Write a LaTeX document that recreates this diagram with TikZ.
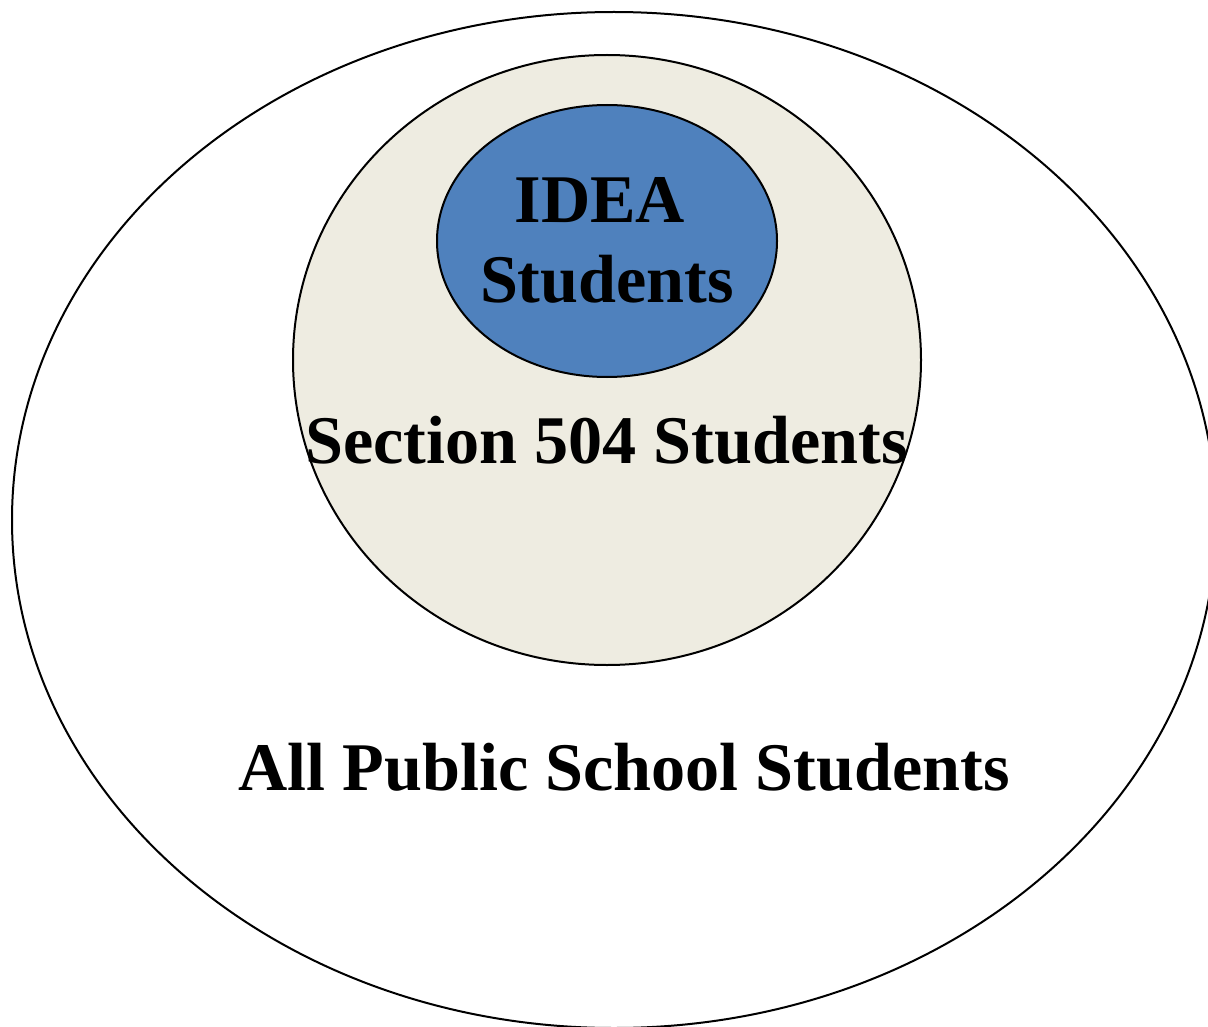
\documentclass[tikz,border=0pt]{standalone}
\usepackage{fontspec}
\setmainfont{Liberation Serif}
\usetikzlibrary{shapes.geometric}
\definecolor{beige}{HTML}{EEECE1}
\definecolor{ideablue}{HTML}{4F81BD}
\tikzset{
  setline/.style={draw=black, line width=2pt},
  lbl/.style={font=\fontsize{68.2}{79}\selectfont\bfseries, anchor=base, inner sep=0pt, align=center}
}
\begin{document}
\begin{tikzpicture}[x=1pt,y=-1pt]
\useasboundingbox[fill=white] (0,0) rectangle (1208,1027);
\path[setline, fill=white] (614,520) ellipse [x radius=602, y radius=508];
\path[setline, fill=beige] (607,360) ellipse [x radius=314, y radius=305];
\path[setline, fill=ideablue] (607,241) ellipse [x radius=170, y radius=136];
\node[lbl] (idea) at (600,223) {IDEA};
\node[lbl] (ideast) at (607,302) {Students};
\node[lbl] (sec) at (606.5,463) {Section 504 Students};
\node[lbl] (all) at (624,790) {All Public School Students};
\end{tikzpicture}
\end{document}
